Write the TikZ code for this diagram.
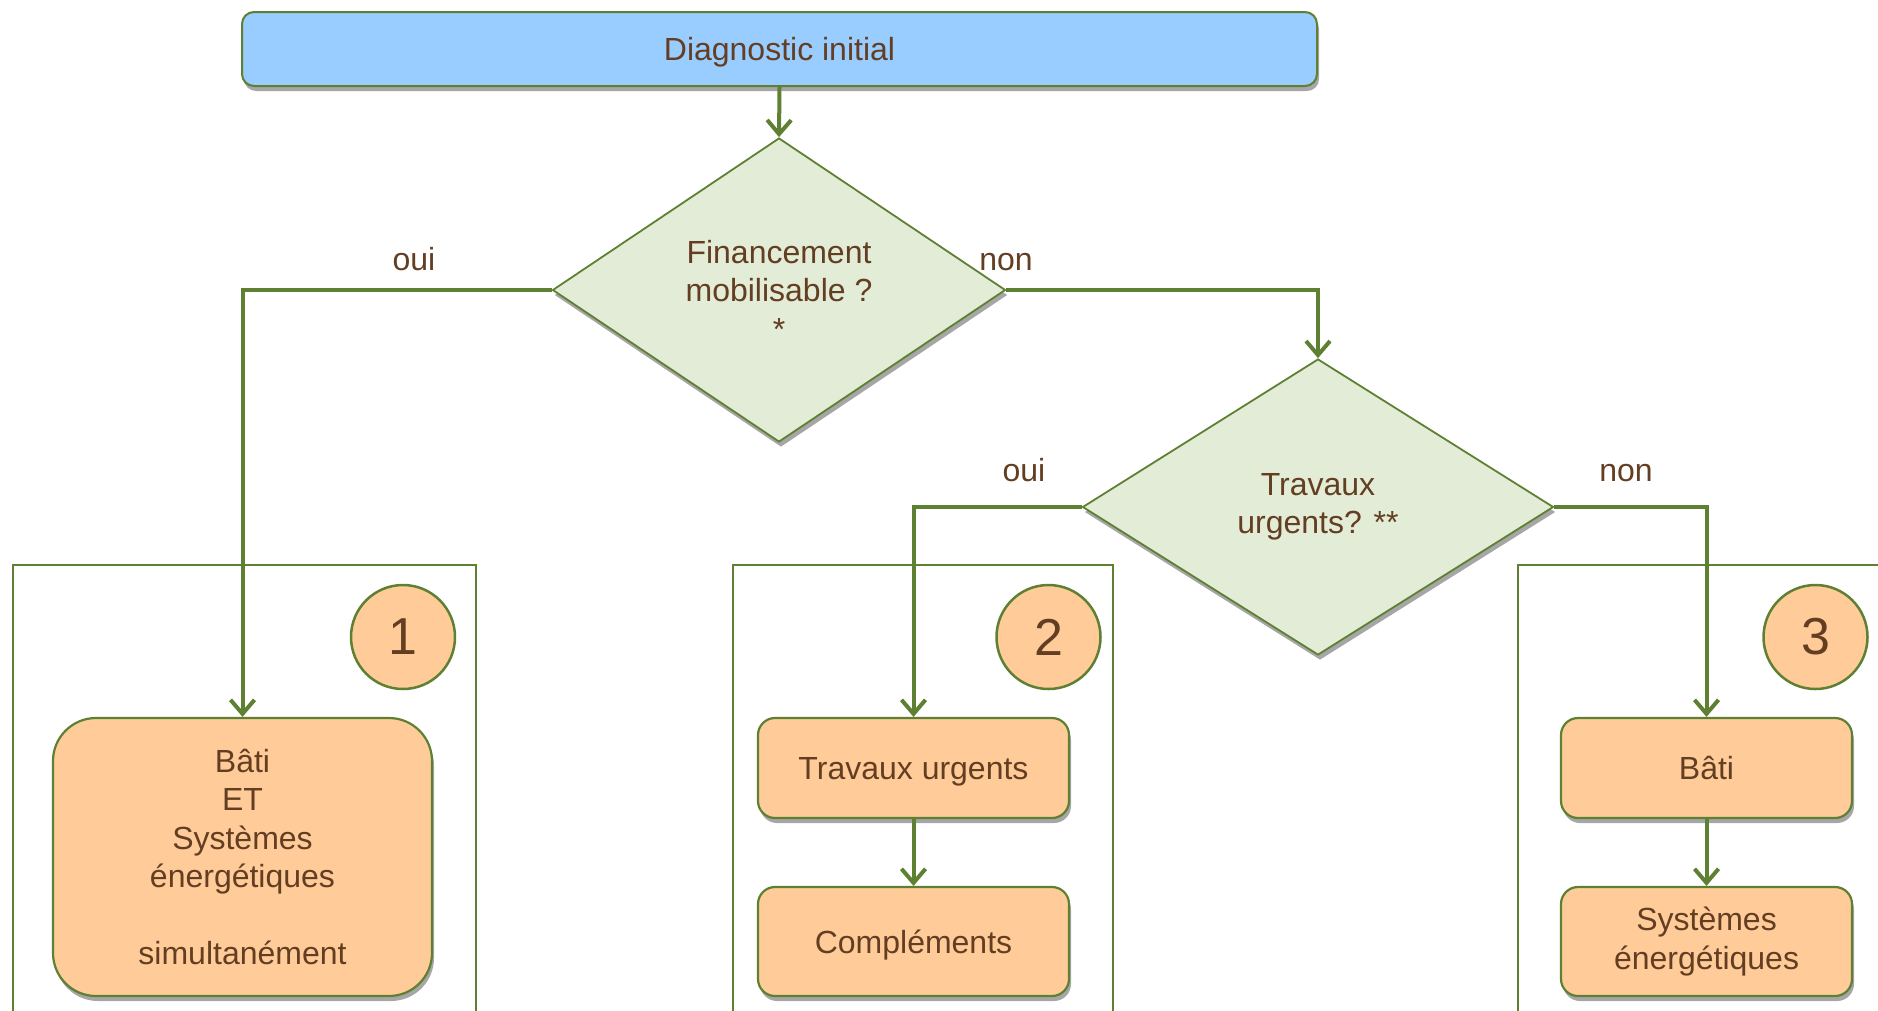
\documentclass[tikz,border=0pt]{standalone}
\usepackage{fontspec}
\setmainfont{Liberation Sans}
\usetikzlibrary{shapes.geometric,arrows.meta,shadows}
\definecolor{lgreen}{HTML}{5E8032}
\definecolor{dfill}{HTML}{E2ECD7}
\definecolor{ofill}{HTML}{FFCC99}
\definecolor{bfill}{HTML}{99CCFF}
\definecolor{tbrown}{HTML}{633E22}
\begin{document}
\begin{tikzpicture}[x=1pt,y=-1pt,
  every node/.style={text=tbrown, font=\fontsize{32pt}{38.5pt}\selectfont},
  shad/.style={drop shadow={shadow xshift=2pt, shadow yshift=-5pt, opacity=0.35, fill=black}},
  topbox/.style={rectangle, rounded corners=12pt, minimum width=1075pt, minimum height=74pt, fill=bfill, draw=lgreen, line width=2pt, text depth=0pt, shad},
  dia/.style={diamond, inner sep=0pt, fill=dfill, draw=lgreen, line width=1.8pt, align=center, shad},
  obox/.style={rectangle, inner sep=0pt, fill=ofill, draw=lgreen, line width=2.2pt, align=center, shad},
  onebox/.style={obox, text depth=0pt},
  num/.style={circle, minimum size=104pt, inner sep=0pt, fill=ofill, draw=lgreen, line width=2.5pt, font=\fontsize{52pt}{60pt}\selectfont},
  frame/.style={draw=lgreen, line width=2.7pt},
  arr/.style={draw=lgreen, line width=4pt, -{Straight Barb[length=14pt,width=24pt]}},
  lbl/.style={anchor=base, inner sep=0pt}
]
\useasboundingbox (0,0) rectangle (1878,1010);
% frames
\draw[frame] (13,1012) |- (476,565) -- (476,1012);
\draw[frame] (733,1012) |- (1113,565) -- (1113,1012);
\draw[frame] (1518,1012) |- (1880,565);
% nodes
\node[topbox] (top) at (779.5,49) {Diagnostic initial};
\node[dia, minimum width=453pt, minimum height=304pt] (d1) at (779,290) {Financement\\mobilisable ?\\*};
\node[dia, minimum width=471pt, minimum height=296pt] (d2) at (1318,507) {Travaux\\urgents? **};
\node[obox, rounded corners=43pt, minimum width=379pt, minimum height=278pt] (b1) at (242.5,857) {Bâti\\ET\\Systèmes\\énergétiques\\\mbox{}\\simultanément};
\node[onebox, rounded corners=17pt, minimum width=311pt, minimum height=100pt] (b2a) at (913.5,768) {Travaux urgents};
\node[onebox, rounded corners=17pt, minimum width=311pt, minimum height=109pt] (b2b) at (913.5,941.5) {Compléments};
\node[onebox, rounded corners=17pt, minimum width=291pt, minimum height=100pt] (b3a) at (1706.5,768) {Bâti};
\node[obox, rounded corners=17pt, minimum width=291pt, minimum height=109pt] (b3b) at (1706.5,941.5) {Systèmes\\énergétiques};
\node[num] (c1) at (403,637) {1};
\node[num] (c2) at (1048.5,637) {2};
\node[num] (c3) at (1815.5,637) {3};
% labels
\node[lbl] (l1) at (414,270) {oui};
\node[lbl] (l2) at (1006,270) {non};
\node[lbl] (l3) at (1024,481) {oui};
\node[lbl] (l4) at (1626,481) {non};
% connectors
\draw[arr] (top.south) -- (d1.north);
\draw[arr] (d1.west) -| (b1.north);
\draw[arr] (d1.east) -| (d2.north);
\draw[arr] (d2.west) -| (b2a.north);
\draw[arr] (d2.east) -| (b3a.north);
\draw[arr] (b2a.south) -- (b2b.north);
\draw[arr] (b3a.south) -- (b3b.north);
\end{tikzpicture}
\end{document}
